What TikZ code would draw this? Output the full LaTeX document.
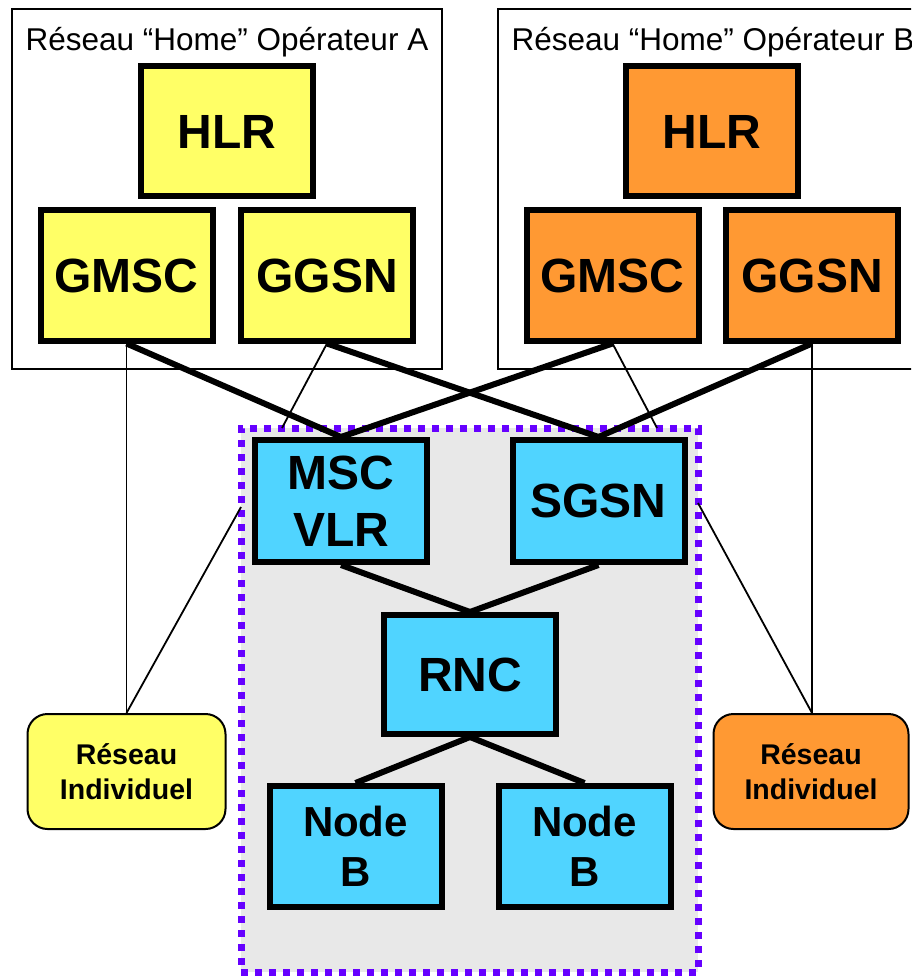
\documentclass[tikz,border=0pt]{standalone}
\usepackage{fontspec}
\setmainfont{Liberation Sans}
\usepackage{tikz}
\usetikzlibrary{positioning,calc}
\definecolor{homeA}{RGB}{255,255,102}
\definecolor{homeB}{RGB}{255,153,51}
\definecolor{umts}{RGB}{80,212,255}
\definecolor{coregray}{RGB}{232,232,232}
\definecolor{dotviolet}{RGB}{102,0,255}

\begin{document}
\begin{tikzpicture}[
    x=1pt,y=-1pt,
    elem/.style={rectangle,draw,line width=6pt,inner sep=0pt,minimum width=172pt,minimum height=130pt,align=center,font=\fontsize{48}{57}\selectfont\bfseries},
    small/.style={elem,minimum height=121pt,font=\fontsize{42}{50}\selectfont\bfseries},
    indiv/.style={rectangle,draw,rounded corners=20pt,line width=2pt,inner sep=0pt,minimum width=198pt,minimum height=115pt,align=center,font=\fontsize{28.5}{35}\selectfont\bfseries},
    homebox/.style={rectangle,draw,line width=2pt},
    title/.style={font=\fontsize{31.5}{36}\selectfont,inner sep=0pt},
    corebox/.style={rectangle,draw=dotviolet,fill=coregray,line width=7pt,dash pattern=on 7pt off 7pt,inner sep=0pt,minimum width=457pt,minimum height=544pt},
    link/.style={line width=6pt},
    wire/.style={line width=1.8pt}]
    \useasboundingbox (0,0) rectangle (911,976);
    \clip (0,0) rectangle (911,976);
    % reseaux "home" des deux operateurs
    \draw[homebox] (12,9) rectangle (442,369);
    \draw[homebox] (498,9) rectangle (940,369);
    \node[title] (tA) at (227,42) {Réseau “Home” Opérateur A};
    \node[title] (tB) at (713,42) {Réseau “Home” Opérateur B};
    % reseau visite
    \node[corebox] (core) at (469.5,700) {};
    \node[elem,fill=homeA] (hlrA) at (227,131.5) {HLR};
    \node[elem,fill=homeA] (gmscA) at (126.5,275.5) {GMSC};
    \node[elem,fill=homeA] (ggsnA) at (327,275.5) {GGSN};
    \node[elem,fill=homeB] (hlrB) at (712,131.5) {HLR};
    \node[elem,fill=homeB] (gmscB) at (612.5,275.5) {GMSC};
    \node[elem,fill=homeB] (ggsnB) at (812,275.5) {GGSN};
    \node[elem,fill=umts,minimum height=122pt] (msc) at (341,501) {MSC\\VLR};
    \node[elem,fill=umts,minimum height=122pt] (sgsn) at (598.5,501) {SGSN};
    \node[elem,fill=umts,minimum height=119pt] (rnc) at (470,674.5) {RNC};
    \node[small,fill=umts] (nbA) at (355.5,846.5) {Node\\B};
    \node[small,fill=umts] (nbB) at (584.5,846.5) {Node\\B};
    \node[indiv,fill=homeA] (indA) at (126.5,771.5) {Réseau\\Individuel};
    \node[indiv,fill=homeB,minimum width=195pt] (indB) at (811,771.5) {Réseau\\Individuel};
    % points d'attache sur le cadre pointille
    \coordinate (cA) at (282,428);
    \coordinate (cB) at (657,428);
    \coordinate (cL) at (241,507);
    \coordinate (cR) at (698,503);
    % liaisons fines
    \draw[wire] (gmscA.south) -- (indA.north);
    \draw[wire] (ggsnA.south) -- (cA);
    \draw[wire] (indA.north) -- (cL);
    \draw[wire] (gmscB.south) -- (cB);
    \draw[wire] (ggsnB.south) -- (ggsnB.south |- indB.north);
    \draw[wire] (ggsnB.south |- indB.north) -- (cR);
    % liaisons epaisses
    \draw[link] (gmscA.south) -- (msc.north);
    \draw[link] (gmscB.south) -- (msc.north);
    \draw[link] (ggsnA.south) -- (sgsn.north);
    \draw[link] (ggsnB.south) -- (sgsn.north);
    \draw[link] (msc.south) -- (rnc.north);
    \draw[link] (sgsn.south) -- (rnc.north);
    \draw[link] (rnc.south) -- (nbA.north);
    \draw[link] (rnc.south) -- (nbB.north);
\end{tikzpicture}
\end{document}
